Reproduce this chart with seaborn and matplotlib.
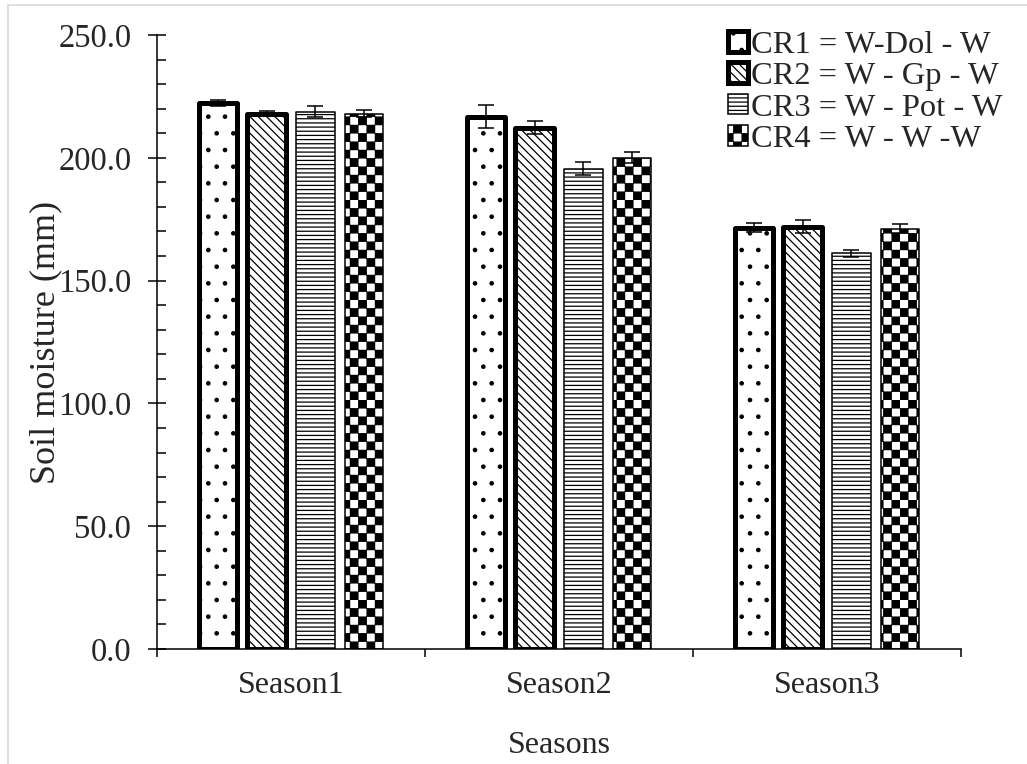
import warnings
import numpy as np
import pandas as pd
import seaborn as sns
import matplotlib
matplotlib.use("Agg")
import matplotlib.pyplot as plt
import matplotlib.hatch as mhatch
from matplotlib.path import Path
from matplotlib.patches import Rectangle

warnings.filterwarnings("ignore")

seasons = ["Season1", "Season2", "Season3"]
rotations = ["CR1 = W-Dol - W", "CR2 = W - Gp - W", "CR3 = W - Pot - W", "CR4 = W - W -W"]
cr1 = [222.2, 216.8, 171.5]
cr2 = [218.0, 212.3, 172.0]
cr3 = [218.8, 195.6, 161.2]
cr4 = [218.0, 200.1, 171.1]
cr1_err = [1.3, 4.8, 1.9]
cr2_err = [1.0, 2.6, 2.6]
cr3_err = [2.2, 2.8, 1.4]
cr4_err = [1.4, 2.2, 1.8]


# checkerboard hatch ('c'), matplotlib has no built-in one
class CheckerHatch(mhatch.HatchPatternBase):
    def __init__(self, hatch, density):
        self.n = 12 if "c" in hatch else 0
        self.num_vertices = (self.n * self.n + 1) // 2 * 5

    def set_vertices_and_codes(self, vertices, codes):
        s = 1.0 / self.n
        shrink = 0.004
        k = 0
        for i in range(self.n):
            for j in range(self.n):
                if (i + j) % 2:
                    continue
                x0, y0 = i * s + shrink, j * s + shrink
                x1, y1 = (i + 1) * s - shrink, (j + 1) * s - shrink
                vertices[k:k + 5] = [[x0, y0], [x1, y0], [x1, y1], [x0, y1], [x0, y0]]
                codes[k:k + 5] = [Path.MOVETO, Path.LINETO, Path.LINETO, Path.LINETO, Path.CLOSEPOLY]
                k += 5


mhatch._hatch_types.append(CheckerHatch)

sns.set_style("ticks")
plt.rcParams["font.family"] = ["Liberation Serif", "DejaVu Serif"]
plt.rcParams["hatch.color"] = "black"
plt.rcParams["hatch.linewidth"] = 0.9

df = pd.DataFrame({
    "Season": seasons * 4,
    "CR": np.repeat(rotations, len(seasons)),
    "Moisture": cr1 + cr2 + cr3 + cr4,
})
errs = [cr1_err, cr2_err, cr3_err, cr4_err]

fig = plt.figure(figsize=(10.27, 7.64), dpi=100)
ax = fig.add_axes([0.1529, 0.1505, 0.7828, 0.8037])

sns.barplot(data=df, x="Season", y="Moisture", hue="CR", hue_order=rotations,
            palette=["white"] * 4, saturation=1, width=0.73, gap=0.22,
            errorbar=None, edgecolor="black", legend=False, ax=ax)

hatches = [".", "\\\\\\\\", "----", "c"]
edge_w = [3.6, 3.6, 1.1, 1.1]
for cont, h, lw, err in zip(ax.containers, hatches, edge_w, errs):
    for bar in cont.patches:
        bar.set_hatch(h)
        bar.set_linewidth(lw)
        bar.set_edgecolor("black")
        bar.set_joinstyle("round")
    xs = [b.get_x() + b.get_width() / 2 for b in cont.patches]
    ys = [b.get_height() for b in cont.patches]
    ax.errorbar(xs, ys, yerr=err, fmt="none", ecolor="black",
                elinewidth=1.1, capsize=6, capthick=1.1, zorder=5)

ax.set_ylim(0, 250)
ax.set_xlim(-0.5, len(seasons) - 0.5)
ax.set_yticks(np.arange(0, 251, 50))
ax.set_yticks(np.arange(0, 251, 10), minor=True)
ax.set_yticklabels([f"{v:.1f}" for v in np.arange(0, 251, 50)])
ax.set_xticks(np.arange(len(seasons) + 1) - 0.5, minor=True)

ax.tick_params(axis="y", which="major", direction="inout", length=13, width=1.1,
               labelsize=23.5, pad=12, color="black")
ax.tick_params(axis="y", which="minor", direction="in", length=6.5, width=1.1, color="black")
ax.tick_params(axis="x", which="major", length=0, labelsize=23, pad=16)
ax.tick_params(axis="x", which="minor", direction="out", length=6, width=1.1, color="black")

for side in ["top", "right"]:
    ax.spines[side].set_visible(False)
for side in ["left", "bottom"]:
    ax.spines[side].set_linewidth(1.1)
    ax.spines[side].set_color("black")

ax.set_xlabel("Seasons", fontsize=23, labelpad=22)
ax.set_ylabel("Soil moisture (mm)", fontsize=26, labelpad=-3)

ax.legend(ax.containers, rotations, loc="upper right",
          bbox_to_anchor=(1003 / 1027, 1 - 31 / 764), bbox_transform=fig.transFigure,
          frameon=False, fontsize=23.4, handlelength=0.6, handleheight=0.6,
          handletextpad=0.12, labelspacing=0.07, borderpad=0, borderaxespad=0)

# light grey outline of the chart area
fig.add_artist(Rectangle((8 / 1027, -0.1), 1.2, 1.1 - 5 / 764, transform=fig.transFigure,
                         fill=False, edgecolor="#d9d9d9", linewidth=1.2))

fig.savefig("out.png", dpi=100)
